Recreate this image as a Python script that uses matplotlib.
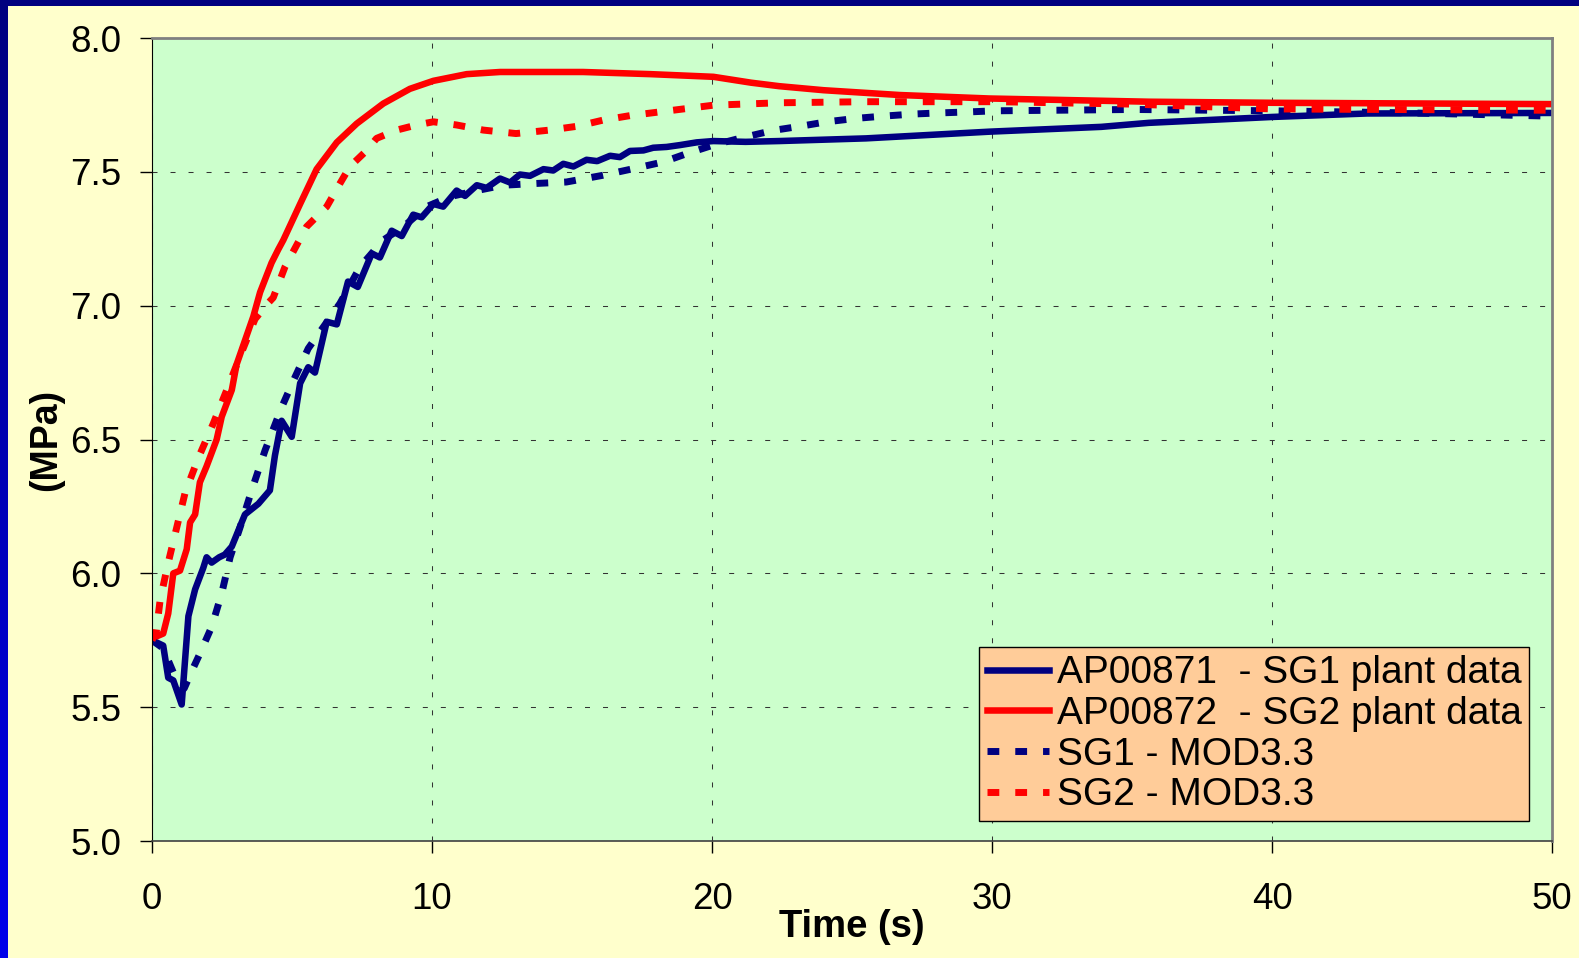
import numpy as np
import matplotlib
matplotlib.use("Agg")
import matplotlib.pyplot as plt
from matplotlib.patches import Rectangle

plt.rcParams['font.family'] = ['Liberation Sans', 'DejaVu Sans']

# SG1 plant data (AP00871)
t_sg1 = [0, 0.4, 0.58, 0.76, 1.06, 1.3, 1.54, 1.83, 1.95, 2.13, 2.4, 2.6, 2.85, 3.32, 3.8,
         4.21, 4.39, 4.63, 4.99, 5.29, 5.58, 5.82, 6.24, 6.6, 7.0, 7.35, 7.85, 8.14, 8.56,
         8.92, 9.33, 9.63, 10.05, 10.4, 10.88, 11.18, 11.6, 11.95, 12.43, 12.79, 13.14,
         13.5, 13.98, 14.33, 14.69, 15.05, 15.52, 15.9, 16.36, 16.71, 17.07, 17.55, 17.9,
         18.38, 18.86, 19.45, 20.05, 21.2, 22.4, 25.5, 29.9, 33.9, 35.6, 40.0, 43.4, 50]
p_sg1 = [5.75, 5.73, 5.61, 5.60, 5.51, 5.84, 5.94, 6.02, 6.06, 6.04, 6.06, 6.07, 6.10, 6.22, 6.26,
         6.31, 6.44, 6.57, 6.51, 6.71, 6.77, 6.75, 6.94, 6.93, 7.09, 7.07, 7.195, 7.18, 7.28,
         7.26, 7.34, 7.33, 7.38, 7.37, 7.43, 7.41, 7.45, 7.44, 7.475, 7.46, 7.49,
         7.485, 7.51, 7.505, 7.53, 7.52, 7.545, 7.54, 7.56, 7.555, 7.578, 7.58, 7.59,
         7.593, 7.60, 7.61, 7.615, 7.612, 7.615, 7.625, 7.65, 7.668, 7.683, 7.705, 7.718, 7.72]

# SG2 plant data (AP00872)
t_sg2 = [0, 0.4, 0.58, 0.76, 1.0, 1.24, 1.36, 1.54, 1.71, 1.95, 2.31, 2.49, 2.85, 3.02, 3.32,
         3.62, 3.86, 4.27, 4.51, 4.69, 5.29, 5.88, 6.6, 7.31, 8.26, 9.21, 10.05, 11.24, 12.43,
         15.4, 17.8, 20.05, 21.4, 22.4, 23.98, 26.7, 29.9, 35.6, 40, 50]
p_sg2 = [5.757, 5.775, 5.85, 6.0, 6.01, 6.09, 6.19, 6.22, 6.34, 6.40, 6.50, 6.585, 6.685, 6.78, 6.87,
         6.96, 7.05, 7.16, 7.21, 7.245, 7.38, 7.51, 7.61, 7.68, 7.755, 7.81, 7.84, 7.865, 7.873,
         7.873, 7.865, 7.855, 7.833, 7.82, 7.805, 7.787, 7.774, 7.762, 7.758, 7.753]

# SG1 - MOD3.3
t_mod1 = [0, 0.4, 0.8, 1.15, 1.4, 1.71, 2.13, 2.49, 2.79, 3.14, 3.56, 4.04, 4.63, 5.05, 5.58,
          6.71, 7.43, 8.26, 8.98, 9.81, 10.64, 11.6, 12.55, 13.62, 14.8, 16.1, 17.2, 18.26,
          19.1, 20.05, 21.1, 22.2, 23.14, 24.1, 25.17, 26.1, 27.2, 28.1, 29.2, 30.1, 32.2,
          35.05, 40, 45, 50]
p_mod1 = [5.75, 5.72, 5.62, 5.57, 5.63, 5.70, 5.80, 5.925, 6.06, 6.17, 6.31, 6.46, 6.62, 6.72, 6.84,
          7.008, 7.145, 7.245, 7.295, 7.37, 7.407, 7.43, 7.45, 7.456, 7.462, 7.487, 7.512, 7.537,
          7.568, 7.60, 7.628, 7.655, 7.67, 7.687, 7.70, 7.708, 7.716, 7.72, 7.724, 7.728, 7.73,
          7.733, 7.728, 7.72, 7.708]

# SG2 - MOD3.3
t_mod2 = [0, 0.15, 0.29, 0.58, 0.88, 1.18, 1.65, 2.19, 2.67, 3.14, 3.68, 4.15, 4.33, 4.75,
          5.52, 6.24, 6.71, 7.07, 7.67, 8.02, 8.74, 9.45, 10.05, 10.88, 11.83, 13.0, 14.2,
          15.17, 16.1, 17.07, 20.05, 22.4, 25.5, 30.2, 35, 40, 50]
p_mod2 = [5.75, 5.78, 5.90, 6.04, 6.17, 6.30, 6.43, 6.56, 6.685, 6.81, 6.95, 7.01, 7.03, 7.145,
          7.295, 7.37, 7.456, 7.52, 7.58, 7.625, 7.656, 7.675, 7.687, 7.675, 7.656, 7.643, 7.656,
          7.67, 7.693, 7.71, 7.749, 7.758, 7.762, 7.762, 7.753, 7.735, 7.73]

labels = ["AP00871  - SG1 plant data", "AP00872  - SG2 plant data",
          "SG1 - MOD3.3", "SG2 - MOD3.3"]

navy = "#000080"
red = "#FF0000"

fig = plt.figure(figsize=(15.79, 9.58), dpi=100, facecolor="#FFFFCC")
W, H = 1579, 958

# blue frame: top strip and left gradient strip
fig.patches.append(Rectangle((0, 1 - 6 / H), 1, 6 / H, transform=fig.transFigure,
                             facecolor=navy, edgecolor="none", zorder=0))
bax = fig.add_axes([0, 0, 8 / W, 1])
grad = np.linspace(0, 1, 256).reshape(-1, 1)
cols = np.array([[0, 0, 0.50]]) * (1 - grad) + np.array([[0, 0, 0.92]]) * grad
bax.imshow(cols.reshape(256, 1, 3), aspect="auto", extent=[0, 1, 0, 1], origin="upper")
bax.axis("off")

ax = fig.add_axes([152 / W, 117 / H, 1400 / W, 803 / H])
ax.set_facecolor("#CCFFCC")

ax.plot(t_sg1, p_sg1, color=navy, lw=4.7, label=labels[0], solid_joinstyle="round")
ax.plot(t_sg2, p_sg2, color=red, lw=4.7, label=labels[1], solid_joinstyle="round")
ax.plot(t_mod1, p_mod1, color=navy, lw=5, linestyle=(0, (1.7, 2.3)),
        dash_capstyle="butt", label=labels[2])
ax.plot(t_mod2, p_mod2, color=red, lw=5, linestyle=(0, (1.7, 2.3)),
        dash_capstyle="butt", label=labels[3])

ax.set_xlim(0, 50)
ax.set_ylim(5.0, 8.0)
ax.set_xticks(np.arange(0, 51, 10))
ax.set_yticks(np.arange(5.0, 8.01, 0.5))
ax.set_yticklabels(["%.1f" % v for v in np.arange(5.0, 8.01, 0.5)])

ax.grid(True, color="#333333", lw=0.75, linestyle=(0, (4.8, 12.5)))
ax.tick_params(axis="both", direction="out", length=8.6, width=1, labelsize=26.5)
ax.tick_params(axis="y", pad=13.5)
ax.tick_params(axis="x", pad=21)

ax.spines["left"].set_color("black")
ax.spines["bottom"].set_color("#404040")
ax.spines["bottom"].set_linewidth(1.2)
for s in ["top", "right"]:
    ax.spines[s].set_color("#808080")
    ax.spines[s].set_linewidth(2)

ax.set_xlabel("Time (s)", fontsize=27.5, fontweight="bold", labelpad=-6)
ax.set_ylabel("(MPa)", fontsize=27, fontweight="bold", labelpad=4)

leg = ax.legend(loc="lower left", bbox_to_anchor=(0.5907, 0.0249), borderaxespad=0,
                fontsize=28, frameon=True, fancybox=False, framealpha=1,
                facecolor="#FFCC99", edgecolor="black", borderpad=0.2,
                handlelength=1.6, handletextpad=0.2, labelspacing=0.12)
leg.get_frame().set_linewidth(1)

fig.savefig("out.png", dpi=100, facecolor=fig.get_facecolor())
